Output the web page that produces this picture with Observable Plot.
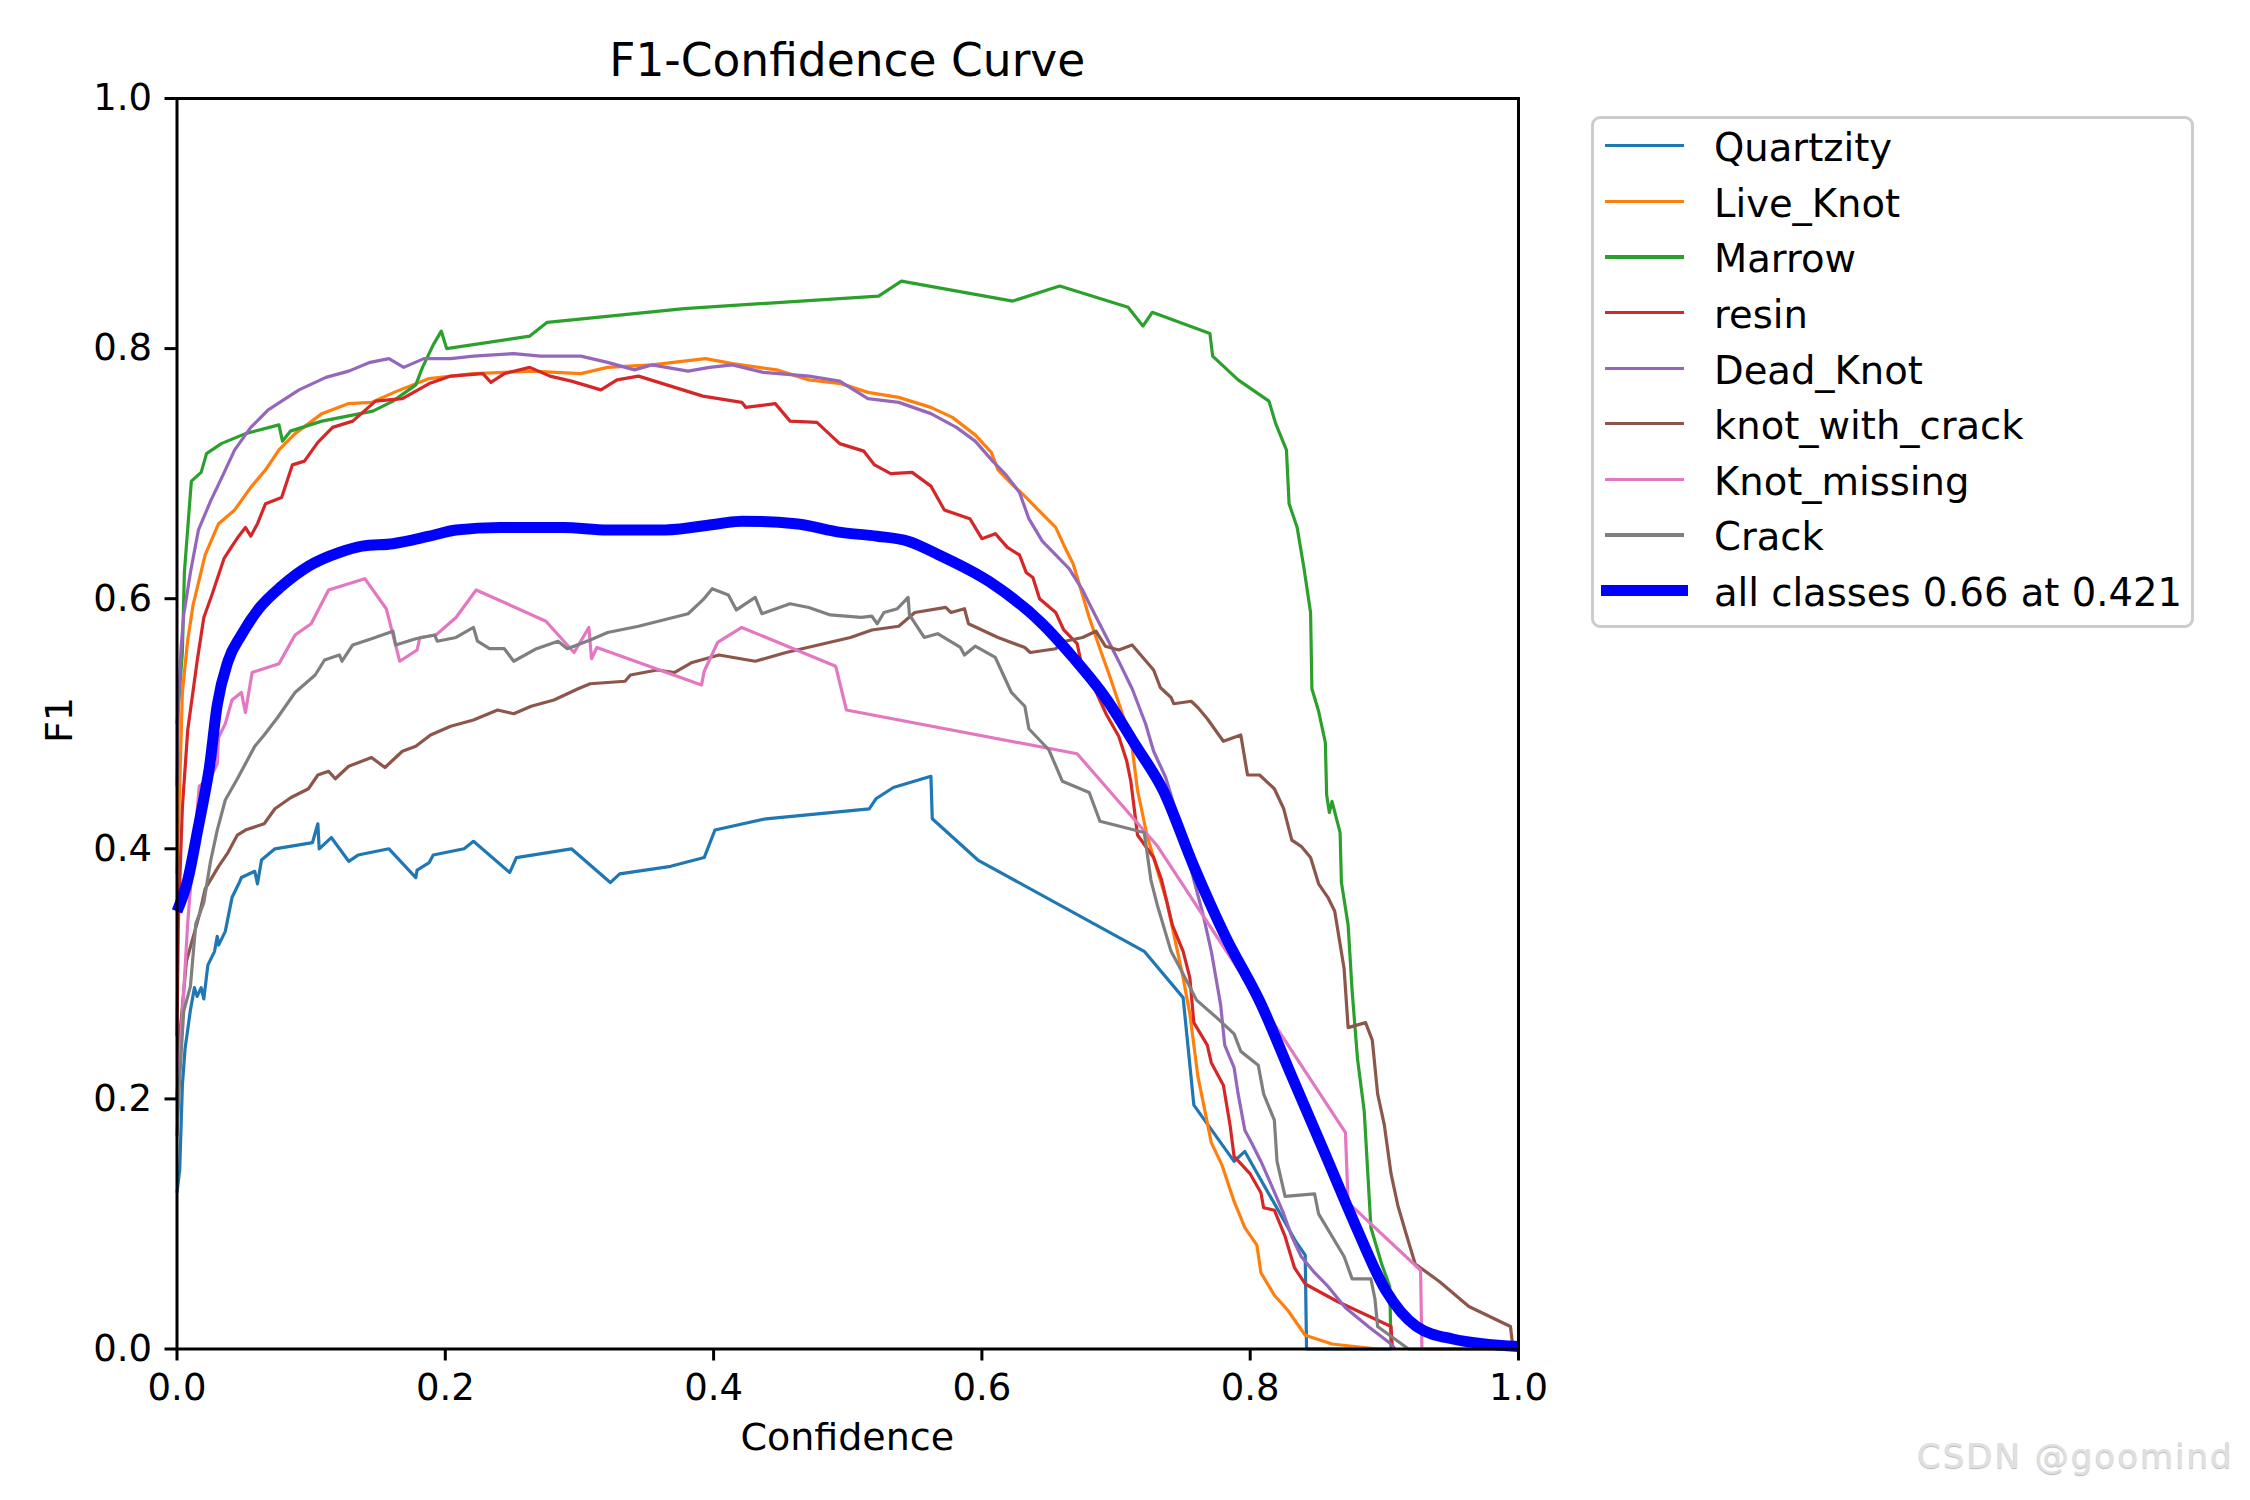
<!DOCTYPE html>
<html>
<head>
<meta charset="utf-8">
<script src="https://cdn.jsdelivr.net/npm/d3@7"></script>
<script src="https://cdn.jsdelivr.net/npm/@observablehq/plot@0.6"></script>
<style>
html, body { margin: 0; padding: 0; background: #fff; }
#wrap { position: relative; width: 2250px; height: 1500px; overflow: hidden; font-family: "DejaVu Sans", sans-serif; color: #000; background: #fff; }
#wrap > svg { position: absolute; left: 0; top: 0; }
.abs { position: absolute; white-space: nowrap; line-height: 1; }
</style>
</head>
<body>
<div id="wrap"></div>
<script>
// ---------------- data ----------------
const chartTitle = "F1-Confidence Curve";
const xLabel = "Confidence";
const yLabel = "F1";
const xTicks = [0, 0.2, 0.4, 0.6, 0.8, 1.0];
const yTicks = [0, 0.2, 0.4, 0.6, 0.8, 1.0];

const classNames = ["Quartzity", "Live_Knot", "Marrow", "resin", "Dead_Knot", "knot_with_crack", "Knot_missing", "Crack"];
const classColors = ["#1f77b4", "#ff7f0e", "#2ca02c", "#d62728", "#9467bd", "#8c564b", "#e377c2", "#7f7f7f"];
const allName = "all classes 0.66 at 0.421";
const allColor = "#0000ff";
const watermark = "CSDN @goomind";

// [confidence, F1]
const quartzity = [[0,0.125],[0.002,0.143],[0.004,0.211],[0.006,0.240],[0.010,0.271],[0.013,0.289],[0.015,0.282],[0.018,0.289],[0.020,0.280],[0.023,0.307],[0.028,0.318],[0.030,0.330],[0.031,0.323],[0.036,0.334],[0.041,0.361],[0.046,0.372],[0.048,0.377],[0.058,0.382],[0.060,0.372],[0.063,0.391],[0.073,0.400],[0.101,0.405],[0.105,0.420],[0.106,0.400],[0.115,0.409],[0.128,0.390],[0.135,0.395],[0.158,0.400],[0.178,0.377],[0.179,0.383],[0.188,0.389],[0.191,0.395],[0.214,0.400],[0.221,0.406],[0.248,0.381],[0.253,0.393],[0.294,0.400],[0.323,0.373],[0.330,0.380],[0.368,0.386],[0.393,0.393],[0.401,0.415],[0.439,0.424],[0.516,0.432],[0.521,0.440],[0.534,0.449],[0.562,0.458],[0.563,0.424],[0.597,0.391],[0.721,0.318],[0.750,0.281],[0.758,0.195],[0.788,0.150],[0.796,0.158],[0.834,0.086],[0.841,0.075],[0.842,0],[0.905,0]];
const liveKnot = [[0,0.38],[0.002,0.45],[0.004,0.525],[0.008,0.567],[0.012,0.595],[0.021,0.635],[0.031,0.660],[0.043,0.671],[0.055,0.689],[0.066,0.703],[0.076,0.719],[0.088,0.732],[0.108,0.748],[0.128,0.756],[0.145,0.757],[0.164,0.766],[0.188,0.776],[0.221,0.780],[0.264,0.782],[0.301,0.780],[0.321,0.785],[0.354,0.787],[0.394,0.792],[0.414,0.788],[0.447,0.783],[0.471,0.775],[0.495,0.772],[0.515,0.765],[0.538,0.761],[0.562,0.753],[0.578,0.745],[0.595,0.731],[0.607,0.717],[0.612,0.703],[0.622,0.692],[0.632,0.682],[0.642,0.671],[0.655,0.657],[0.661,0.643],[0.668,0.628],[0.675,0.603],[0.680,0.585],[0.688,0.560],[0.695,0.539],[0.705,0.507],[0.711,0.489],[0.716,0.447],[0.723,0.411],[0.731,0.382],[0.738,0.357],[0.750,0.297],[0.755,0.268],[0.761,0.218],[0.765,0.197],[0.771,0.165],[0.779,0.147],[0.788,0.118],[0.796,0.097],[0.805,0.083],[0.808,0.061],[0.818,0.043],[0.828,0.031],[0.841,0.011],[0.861,0.004],[0.895,0]];
const marrow = [[0,0.50],[0.004,0.557],[0.0055,0.621],[0.0107,0.694],[0.018,0.701],[0.022,0.716],[0.033,0.724],[0.051,0.732],[0.076,0.739],[0.0786,0.726],[0.0845,0.734],[0.108,0.742],[0.146,0.750],[0.161,0.758],[0.178,0.771],[0.183,0.785],[0.191,0.803],[0.197,0.814],[0.201,0.800],[0.263,0.810],[0.276,0.821],[0.378,0.832],[0.523,0.842],[0.540,0.854],[0.623,0.838],[0.658,0.850],[0.709,0.833],[0.720,0.818],[0.727,0.829],[0.770,0.812],[0.772,0.794],[0.791,0.775],[0.814,0.758],[0.819,0.740],[0.827,0.719],[0.829,0.676],[0.835,0.657],[0.840,0.625],[0.845,0.589],[0.846,0.528],[0.851,0.510],[0.856,0.485],[0.857,0.443],[0.859,0.429],[0.861,0.438],[0.867,0.413],[0.868,0.373],[0.873,0.339],[0.876,0.286],[0.880,0.232],[0.885,0.190],[0.890,0.097],[0.898,0.068],[0.904,0.050],[0.905,0]];
const resin = [[0,0.25],[0.001,0.341],[0.004,0.433],[0.008,0.495],[0.015,0.550],[0.020,0.585],[0.026,0.603],[0.035,0.632],[0.041,0.642],[0.046,0.650],[0.051,0.657],[0.055,0.650],[0.060,0.660],[0.066,0.676],[0.078,0.681],[0.086,0.707],[0.095,0.710],[0.105,0.725],[0.116,0.737],[0.131,0.742],[0.148,0.758],[0.168,0.760],[0.188,0.772],[0.204,0.778],[0.228,0.780],[0.234,0.773],[0.244,0.780],[0.263,0.785],[0.278,0.778],[0.294,0.774],[0.316,0.767],[0.328,0.775],[0.344,0.778],[0.374,0.768],[0.392,0.762],[0.421,0.757],[0.424,0.753],[0.446,0.756],[0.457,0.742],[0.477,0.741],[0.494,0.724],[0.512,0.718],[0.520,0.707],[0.532,0.700],[0.548,0.701],[0.562,0.690],[0.572,0.671],[0.591,0.664],[0.600,0.648],[0.610,0.652],[0.619,0.641],[0.628,0.635],[0.633,0.621],[0.638,0.617],[0.643,0.600],[0.655,0.589],[0.661,0.575],[0.671,0.564],[0.676,0.539],[0.684,0.528],[0.693,0.507],[0.702,0.490],[0.708,0.470],[0.711,0.454],[0.716,0.411],[0.728,0.393],[0.734,0.375],[0.742,0.339],[0.750,0.318],[0.755,0.297],[0.758,0.261],[0.768,0.243],[0.771,0.229],[0.780,0.211],[0.785,0.179],[0.788,0.154],[0.800,0.140],[0.808,0.125],[0.810,0.113],[0.818,0.111],[0.826,0.090],[0.833,0.065],[0.841,0.052],[0.865,0.038],[0.905,0.018],[0.906,0]];
const deadKnot = [[0,0.45],[0.001,0.514],[0.003,0.56],[0.005,0.587],[0.010,0.621],[0.016,0.655],[0.025,0.678],[0.033,0.696],[0.043,0.719],[0.055,0.737],[0.068,0.751],[0.078,0.758],[0.091,0.767],[0.111,0.777],[0.128,0.782],[0.144,0.789],[0.158,0.792],[0.169,0.785],[0.184,0.792],[0.204,0.792],[0.221,0.794],[0.251,0.796],[0.271,0.794],[0.301,0.794],[0.321,0.789],[0.341,0.783],[0.354,0.787],[0.381,0.782],[0.397,0.785],[0.414,0.787],[0.437,0.781],[0.471,0.778],[0.494,0.774],[0.515,0.760],[0.538,0.757],[0.562,0.748],[0.581,0.737],[0.595,0.726],[0.608,0.710],[0.618,0.699],[0.628,0.685],[0.635,0.664],[0.645,0.646],[0.655,0.635],[0.665,0.624],[0.675,0.607],[0.682,0.592],[0.692,0.571],[0.702,0.550],[0.712,0.528],[0.722,0.500],[0.728,0.478],[0.737,0.457],[0.748,0.418],[0.758,0.375],[0.765,0.347],[0.771,0.318],[0.778,0.275],[0.781,0.243],[0.788,0.225],[0.791,0.204],[0.796,0.175],[0.801,0.165],[0.808,0.150],[0.815,0.133],[0.825,0.108],[0.831,0.090],[0.838,0.074],[0.848,0.061],[0.858,0.050],[0.871,0.033],[0.888,0.018],[0.905,0.004],[0.908,0]];
const knotWithCrack = [[0,0.20],[0.002,0.25],[0.007,0.31],[0.0166,0.347],[0.021,0.368],[0.031,0.386],[0.038,0.397],[0.045,0.411],[0.051,0.415],[0.065,0.420],[0.073,0.432],[0.085,0.441],[0.098,0.448],[0.105,0.459],[0.113,0.462],[0.118,0.456],[0.128,0.466],[0.145,0.473],[0.155,0.465],[0.161,0.471],[0.168,0.478],[0.178,0.482],[0.189,0.491],[0.204,0.498],[0.221,0.503],[0.239,0.511],[0.251,0.508],[0.264,0.514],[0.281,0.519],[0.299,0.528],[0.308,0.532],[0.334,0.534],[0.338,0.539],[0.358,0.543],[0.371,0.541],[0.384,0.549],[0.404,0.555],[0.431,0.550],[0.454,0.557],[0.474,0.562],[0.502,0.569],[0.518,0.575],[0.538,0.578],[0.550,0.589],[0.573,0.593],[0.577,0.589],[0.587,0.592],[0.590,0.580],[0.612,0.569],[0.632,0.561],[0.636,0.557],[0.655,0.560],[0.662,0.566],[0.675,0.569],[0.685,0.574],[0.692,0.562],[0.702,0.559],[0.712,0.563],[0.728,0.543],[0.733,0.529],[0.741,0.521],[0.743,0.516],[0.756,0.518],[0.761,0.513],[0.768,0.504],[0.780,0.486],[0.793,0.491],[0.798,0.459],[0.807,0.459],[0.818,0.448],[0.825,0.432],[0.831,0.407],[0.838,0.402],[0.845,0.393],[0.851,0.372],[0.858,0.361],[0.863,0.350],[0.870,0.304],[0.873,0.257],[0.886,0.261],[0.891,0.247],[0.895,0.204],[0.900,0.179],[0.905,0.140],[0.910,0.115],[0.916,0.093],[0.923,0.068],[0.941,0.054],[0.963,0.034],[0.994,0.018],[0.996,0],[1.0,0]];
const knotMissing = [[0,0.20],[0.003,0.25],[0.006,0.304],[0.008,0.341],[0.011,0.382],[0.0166,0.45],[0.025,0.457],[0.030,0.468],[0.031,0.489],[0.036,0.500],[0.041,0.519],[0.048,0.525],[0.051,0.509],[0.056,0.541],[0.076,0.548],[0.088,0.571],[0.100,0.580],[0.113,0.607],[0.140,0.616],[0.156,0.592],[0.166,0.550],[0.179,0.559],[0.181,0.569],[0.193,0.571],[0.208,0.585],[0.223,0.607],[0.275,0.582],[0.296,0.557],[0.307,0.577],[0.309,0.552],[0.313,0.561],[0.391,0.531],[0.393,0.542],[0.403,0.565],[0.421,0.577],[0.491,0.546],[0.499,0.511],[0.671,0.476],[0.731,0.402],[0.871,0.173],[0.873,0.117],[0.927,0.063],[0.928,0],[1.0,0]];
const crack = [[0,0.17],[0.002,0.217],[0.005,0.27],[0.010,0.29],[0.014,0.34],[0.020,0.357],[0.025,0.390],[0.030,0.415],[0.036,0.439],[0.045,0.456],[0.053,0.472],[0.058,0.482],[0.065,0.491],[0.075,0.505],[0.088,0.525],[0.103,0.539],[0.110,0.551],[0.121,0.555],[0.123,0.550],[0.131,0.563],[0.145,0.568],[0.161,0.574],[0.163,0.563],[0.178,0.568],[0.192,0.571],[0.194,0.566],[0.208,0.569],[0.221,0.577],[0.224,0.566],[0.233,0.560],[0.244,0.560],[0.251,0.550],[0.268,0.560],[0.284,0.566],[0.291,0.560],[0.308,0.567],[0.321,0.573],[0.344,0.578],[0.381,0.588],[0.392,0.599],[0.399,0.608],[0.411,0.603],[0.417,0.591],[0.431,0.601],[0.436,0.588],[0.457,0.596],[0.471,0.593],[0.487,0.587],[0.510,0.585],[0.518,0.586],[0.522,0.580],[0.527,0.589],[0.537,0.592],[0.545,0.601],[0.546,0.587],[0.557,0.569],[0.567,0.572],[0.584,0.561],[0.587,0.555],[0.595,0.562],[0.610,0.553],[0.622,0.525],[0.632,0.514],[0.635,0.496],[0.650,0.479],[0.660,0.454],[0.680,0.445],[0.688,0.422],[0.721,0.413],[0.726,0.375],[0.731,0.354],[0.741,0.318],[0.748,0.304],[0.760,0.279],[0.775,0.265],[0.788,0.252],[0.793,0.238],[0.806,0.227],[0.810,0.204],[0.818,0.183],[0.820,0.150],[0.826,0.122],[0.848,0.124],[0.851,0.108],[0.870,0.074],[0.876,0.056],[0.890,0.056],[0.893,0.040],[0.895,0.018],[0.918,0],[1.0,0]];
const allClasses = [[0,0.35],[0.008,0.375],[0.016,0.418],[0.020,0.44],[0.024,0.464],[0.030,0.515],[0.038,0.550],[0.048,0.571],[0.061,0.592],[0.078,0.610],[0.098,0.626],[0.121,0.637],[0.138,0.642],[0.161,0.644],[0.188,0.650],[0.208,0.655],[0.241,0.657],[0.288,0.657],[0.321,0.655],[0.364,0.655],[0.404,0.660],[0.421,0.662],[0.461,0.660],[0.495,0.653],[0.522,0.650],[0.545,0.646],[0.568,0.635],[0.605,0.614],[0.645,0.580],[0.668,0.553],[0.692,0.521],[0.715,0.482],[0.735,0.447],[0.758,0.386],[0.781,0.331],[0.808,0.276],[0.831,0.218],[0.855,0.158],[0.878,0.100],[0.901,0.047],[0.924,0.018],[0.951,0.008],[1.0,0.002]];

const classSeries = [quartzity, liveKnot, marrow, resin, deadKnot, knotWithCrack, knotMissing, crack];

// ---------------- build ----------------
const rows = [];
classSeries.forEach((s, i) => s.forEach(([c, f]) => rows.push({cls: classNames[i], conf: c, f1: f})));
const allRows = allClasses.map(([c, f]) => ({conf: c, f1: f}));

const W = 2250, H = 1500;
const mL = 176.5, mR = 732, mT = 98, mB = 151.5;
const fontTick = 37;

const chart = Plot.plot({
  width: W, height: H,
  marginLeft: mL, marginRight: mR, marginTop: mT, marginBottom: mB,
  style: {fontFamily: "DejaVu Sans", fontSize: fontTick + "px", color: "#000", background: "#fff", overflow: "visible"},
  x: {domain: [0, 1]},
  y: {domain: [0, 1]},
  color: {type: "ordinal", domain: classNames, range: classColors},
  marks: [
    Plot.line(rows, {x: "conf", y: "f1", z: "cls", stroke: "cls", strokeWidth: 3.2, strokeLinejoin: "round", strokeLinecap: "butt"}),
    Plot.line(allRows, {x: "conf", y: "f1", stroke: allColor, strokeWidth: 11, curve: "monotone-x", strokeLinejoin: "round", strokeLinecap: "butt"}),
    Plot.frame({stroke: "#000", strokeWidth: 3}),
    Plot.axisX({ticks: xTicks, tickFormat: d3.format(".1f"), tickSize: 12, tickPadding: 13, strokeWidth: 3, fontSize: fontTick, label: null}),
    Plot.axisY({ticks: yTicks, tickFormat: d3.format(".1f"), tickSize: 12, tickPadding: 13, strokeWidth: 3, fontSize: fontTick, label: null})
  ]
});

const wrap = document.getElementById("wrap");
wrap.appendChild(chart);

function addText(txt, opts) {
  const d = document.createElement("div");
  d.className = "abs";
  d.textContent = txt;
  Object.assign(d.style, opts);
  wrap.appendChild(d);
  return d;
}
const BASE = 0.846; // DejaVu Sans baseline position (em) with line-height 1
const plotCx = (mL + (W - mR)) / 2;

// title
addText(chartTitle, {fontSize: "45.5px", left: plotCx + "px", top: (76.7 - BASE * 45.5) + "px", transform: "translateX(-50%)"});
// x label
addText(xLabel, {fontSize: "38px", left: plotCx + "px", top: (1450 - BASE * 38) + "px", transform: "translateX(-50%)"});
// y label
addText(yLabel, {fontSize: "38px", left: "59px", top: "720px", transform: "translate(-50%, -50%) rotate(-90deg)"});

// legend
const leg = document.createElement("div");
Object.assign(leg.style, {position: "absolute", left: "1591px", top: "116px", width: "603px", height: "512px",
  boxSizing: "border-box", border: "3px solid #cccccc", borderRadius: "9px", background: "rgba(255,255,255,0.8)"});
wrap.appendChild(leg);
const legItems = classNames.map((n, i) => ({name: n, color: classColors[i], w: 3.2}))
  .concat([{name: allName, color: allColor, w: 11}]);
const legFont = 38.5;
legItems.forEach((it, i) => {
  const ly = 145.8 + i * 55.6;
  const line = document.createElement("div");
  const ext = it.w > 5 ? 4 : 0;
  Object.assign(line.style, {position: "absolute", left: (1604.5 - ext) + "px", width: (79.5 + 2 * ext) + "px",
    top: (ly - it.w / 2) + "px", height: it.w + "px", background: it.color});
  wrap.appendChild(line);
  addText(it.name, {fontSize: legFont + "px", left: "1714px", top: (ly + 16 - BASE * legFont) + "px"});
});

// watermark
addText(watermark, {fontSize: "34px", left: "1917px", top: (1468 - BASE * 34) + "px", letterSpacing: "2px",
  color: "#e0e0e0", textShadow: "0 1px 1px rgba(0,0,0,0.28)"});
</script>
</body>
</html>
